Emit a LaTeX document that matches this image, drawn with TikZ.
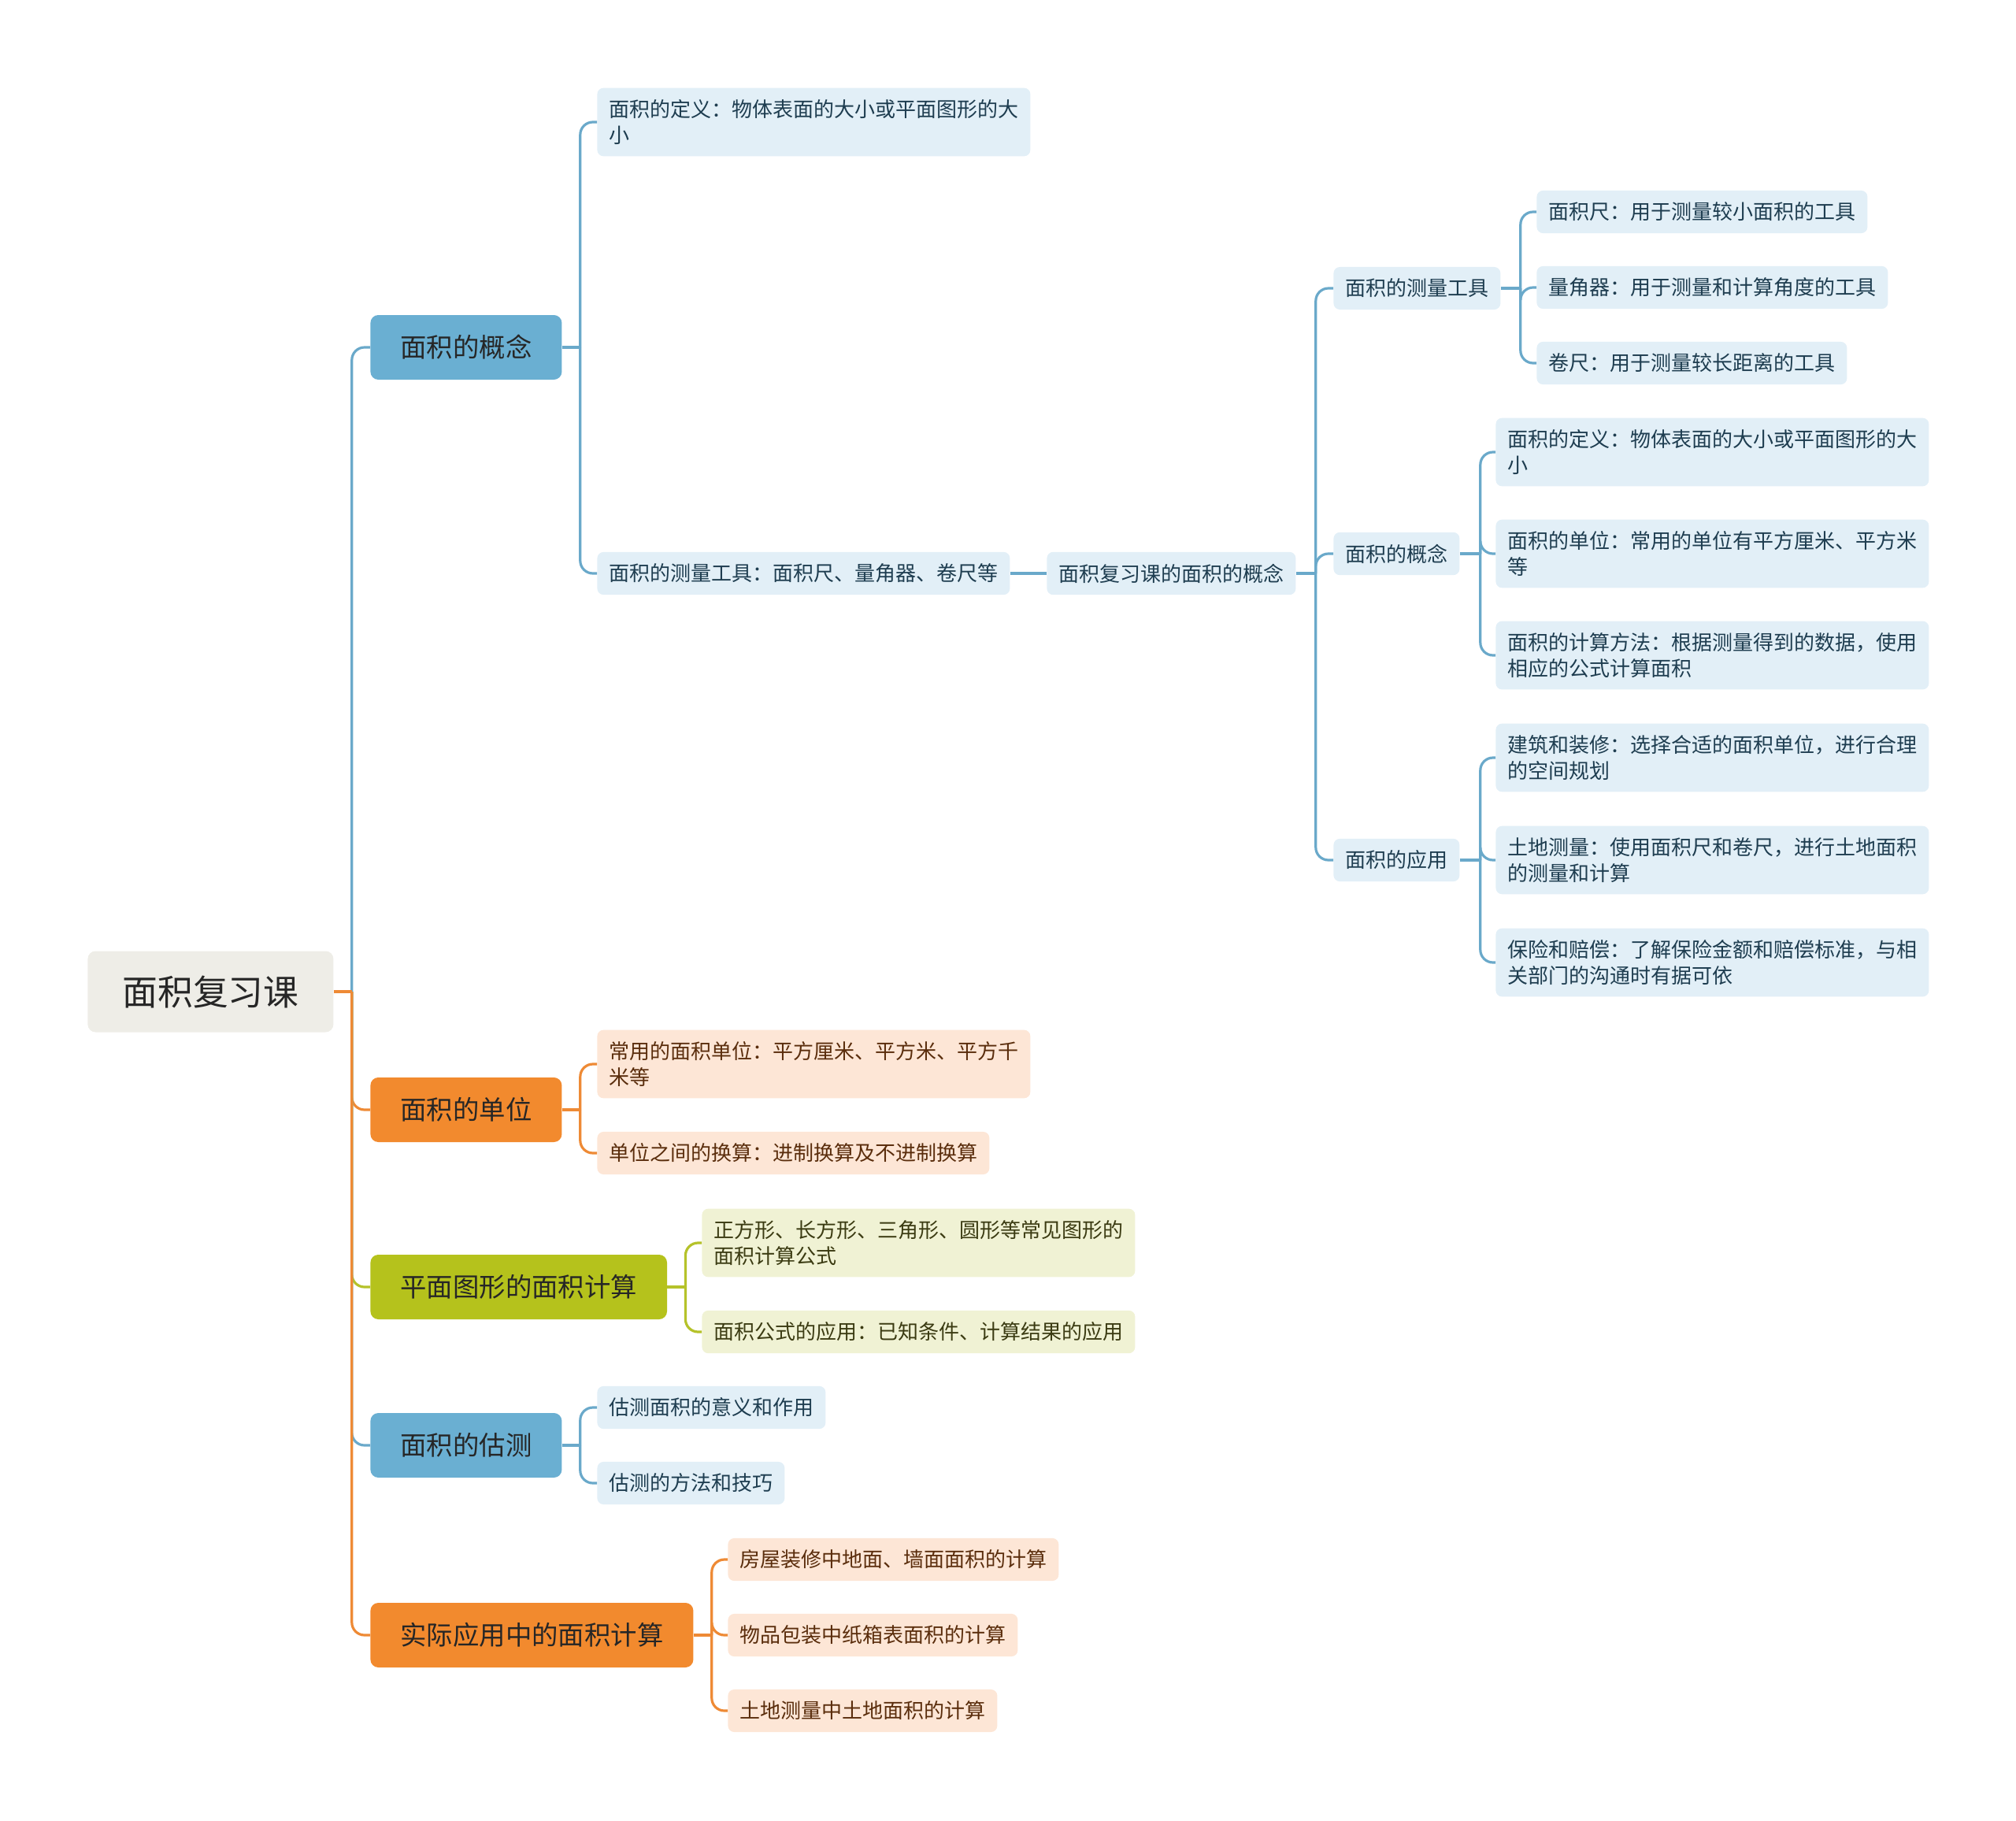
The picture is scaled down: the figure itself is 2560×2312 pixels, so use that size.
\documentclass[tikz,border=0pt]{standalone}
\usepackage{fontspec}
\newfontfamily\cjk{Noto Sans CJK SC}
\definecolor{rootfill}{HTML}{EEEDE7}
\definecolor{bluetopic}{HTML}{6AAFD2}
\definecolor{blueleaf}{HTML}{E2EFF7}
\definecolor{blueline}{HTML}{6AA9CA}
\definecolor{bluetext}{HTML}{1E3D50}
\definecolor{orangetopic}{HTML}{F28A2E}
\definecolor{orangeleaf}{HTML}{FDE6D6}
\definecolor{orangeline}{HTML}{EE8A35}
\definecolor{orangetext}{HTML}{5A2D0C}
\definecolor{greentopic}{HTML}{B5C21C}
\definecolor{greenleaf}{HTML}{F0F2D4}
\definecolor{greenline}{HTML}{B5C22A}
\definecolor{greentext}{HTML}{3B3B12}

\begin{document}
\begin{tikzpicture}[x=0.5pt,y=-0.5pt,
  rootnode/.style={fill=rootfill,rounded corners=5pt,anchor=west,inner xsep=22pt,minimum height=51.5pt,text=black!85,font=\cjk\fontsize{22.4}{26}\selectfont},
  topic/.style={rounded corners=5pt,anchor=west,inner xsep=19pt,minimum height=41pt,text=black!85,font=\cjk\fontsize{16.7}{20}\selectfont},
  leaf/.style={rounded corners=4pt,anchor=west,inner xsep=7.5pt,inner ysep=7.5pt,minimum height=27pt,align=left,font=\cjk\fontsize{13}{16.3}\selectfont},
  bleaf/.style={leaf,fill=blueleaf,text=bluetext},
  oleaf/.style={leaf,fill=orangeleaf,text=orangetext},
  gleaf/.style={leaf,fill=greenleaf,text=greentext},
  link/.style={line width=1.6pt,rounded corners=8pt}
]
\useasboundingbox (0,0) rectangle (2560,2312);

% root and main topics
\node[rootnode] (root) at (111,1259) {面积复习课};
\node[topic,fill=bluetopic] (b1) at (470,441) {面积的概念};
\node[topic,fill=orangetopic] (b2) at (470,1409) {面积的单位};
\node[topic,fill=greentopic] (b3) at (470,1634) {平面图形的面积计算};
\node[topic,fill=bluetopic] (b4) at (470,1835) {面积的估测};
\node[topic,fill=orangetopic] (b5) at (470,2076) {实际应用中的面积计算};

% leaves of the first topic
\node[bleaf] (a1) at (758,155) {面积的定义：物体表面的大小或平面图形的大\\小};
\node[bleaf] (a2) at (758,728) {面积的测量工具：面积尺、量角器、卷尺等};
\node[bleaf] (c0) at (1329,728) {面积复习课的面积的概念};
\node[bleaf] (c1) at (1693,366) {面积的测量工具};
\node[bleaf] (c2) at (1693,703) {面积的概念};
\node[bleaf] (c3) at (1693,1092) {面积的应用};
\node[bleaf] (c11) at (1951,269) {面积尺：用于测量较小面积的工具};
\node[bleaf] (c12) at (1951,365) {量角器：用于测量和计算角度的工具};
\node[bleaf] (c13) at (1951,461) {卷尺：用于测量较长距离的工具};
\node[bleaf] (c21) at (1899,574) {面积的定义：物体表面的大小或平面图形的大\\小};
\node[bleaf] (c22) at (1899,703) {面积的单位：常用的单位有平方厘米、平方米\\等};
\node[bleaf] (c23) at (1899,832) {面积的计算方法：根据测量得到的数据，使用\\相应的公式计算面积};
\node[bleaf] (c31) at (1899,962) {建筑和装修：选择合适的面积单位，进行合理\\的空间规划};
\node[bleaf] (c32) at (1899,1092) {土地测量：使用面积尺和卷尺，进行土地面积\\的测量和计算};
\node[bleaf] (c33) at (1899,1222) {保险和赔偿：了解保险金额和赔偿标准，与相\\关部门的沟通时有据可依};

% leaves of the other topics
\node[oleaf] (d1) at (758,1351) {常用的面积单位：平方厘米、平方米、平方千\\米等};
\node[oleaf] (d2) at (758,1464) {单位之间的换算：进制换算及不进制换算};
\node[gleaf] (e1) at (891,1578) {正方形、长方形、三角形、圆形等常见图形的\\面积计算公式};
\node[gleaf] (e2) at (891,1691) {面积公式的应用：已知条件、计算结果的应用};
\node[bleaf] (f1) at (758,1787) {估测面积的意义和作用};
\node[bleaf] (f2) at (758,1883) {估测的方法和技巧};
\node[oleaf] (g1) at (924,1980) {房屋装修中地面、墙面面积的计算};
\node[oleaf] (g2) at (924,2076) {物品包装中纸箱表面积的计算};
\node[oleaf] (g3) at (924,2172) {土地测量中土地面积的计算};

% junctions
\coordinate (jr) at ([xshift=11.5pt]root.east);
\coordinate (j1) at ([xshift=11.5pt]b1.east);
\coordinate (j2) at ([xshift=11.5pt]b2.east);
\coordinate (j3) at ([xshift=11.5pt]b3.east);
\coordinate (j4) at ([xshift=11.5pt]b4.east);
\coordinate (j5) at ([xshift=11.5pt]b5.east);
\coordinate (jc0) at ([xshift=12.5pt]c0.east);
\coordinate (jc1) at ([xshift=12.5pt]c1.east);
\coordinate (jc2) at ([xshift=13pt]c2.east);
\coordinate (jc3) at ([xshift=13pt]c3.east);

% connectors
\draw[link,blueline] (jr) |- (b1.west);
\draw[link,blueline] (b1.east) -- (j1);
\draw[link,blueline] (j1) |- (a1.west);
\draw[link,blueline] (j1) |- (a2.west);
\draw[link,blueline] (a2.east) -- (c0.west);
\draw[link,blueline] (c0.east) -- (jc0);
\foreach \k in {1,2,3} \draw[link,blueline] (jc0) |- (c\k.west);
\draw[link,blueline] (c1.east) -- (jc1);
\foreach \k in {1,2,3} \draw[link,blueline] (jc1) |- (c1\k.west);
\draw[link,blueline] (c2.east) -- (jc2);
\foreach \k in {1,2,3} \draw[link,blueline] (jc2) |- (c2\k.west);
\draw[link,blueline] (c3.east) -- (jc3);
\foreach \k in {1,2,3} \draw[link,blueline] (jc3) |- (c3\k.west);

\draw[link,orangeline] (jr) |- (b2.west);
\draw[link,orangeline] (b2.east) -- (j2);
\foreach \k in {1,2} \draw[link,orangeline] (j2) |- (d\k.west);
\draw[link,greenline] (jr) |- (b3.west);
\draw[link,greenline] (b3.east) -- (j3);
\foreach \k in {1,2} \draw[link,greenline] (j3) |- (e\k.west);
\draw[link,blueline] (jr) |- (b4.west);
\draw[link,blueline] (b4.east) -- (j4);
\foreach \k in {1,2} \draw[link,blueline] (j4) |- (f\k.west);
\draw[link,orangeline] (jr) |- (b5.west);
\draw[link,orangeline] (b5.east) -- (j5);
\foreach \k in {1,2,3} \draw[link,orangeline] (j5) |- (g\k.west);
\draw[link,orangeline] (root.east) -- (jr);
\end{tikzpicture}
\end{document}
